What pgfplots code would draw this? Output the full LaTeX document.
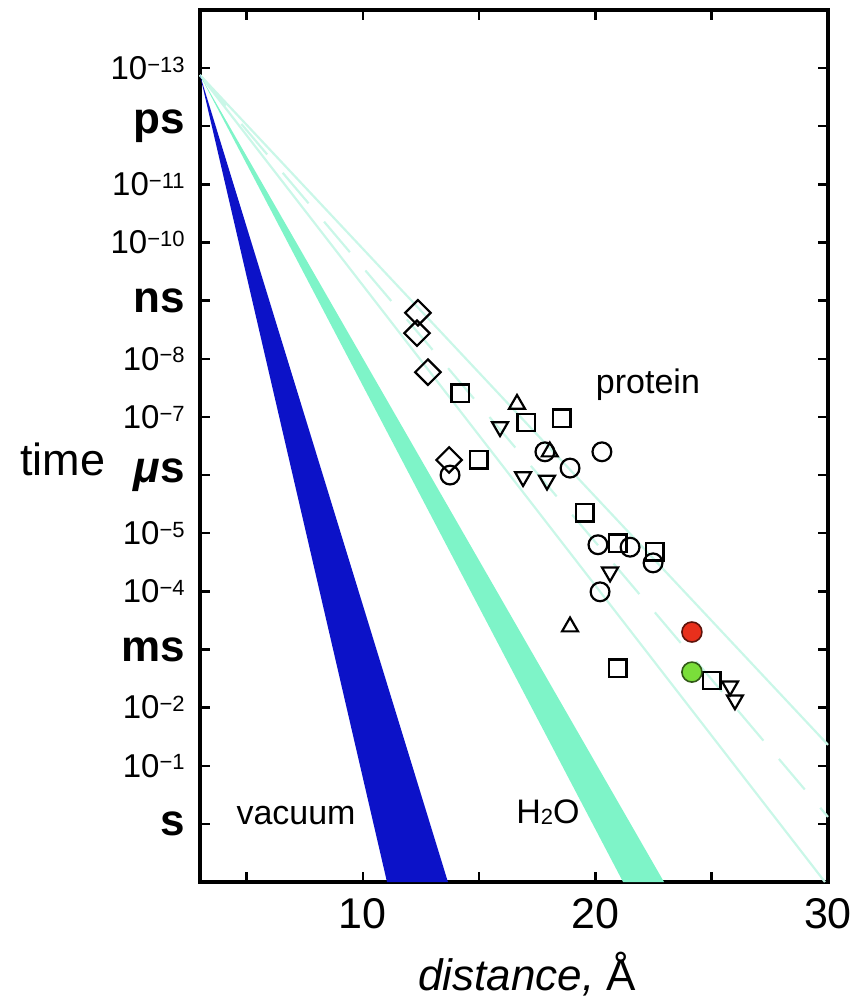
\documentclass[border=0pt]{standalone}
\usepackage{fontspec}
\setmainfont{Liberation Sans}
\usepackage{pgfplots}
\pgfplotsset{compat=1.18}

\definecolor{vac}{RGB}{12,18,200}
\definecolor{wat}{RGB}{126,244,200}
\definecolor{prot}{RGB}{202,247,232}
\definecolor{redm}{RGB}{232,48,28}
\definecolor{grnm}{RGB}{122,222,58}

\newcommand{\tp}[1]{{\fontsize{16.5}{16.5}\selectfont 10\raisebox{3.6pt}{\fontsize{11}{11}\selectfont −#1}}}
\newcommand{\un}[1]{{\fontsize{22}{22}\selectfont\bfseries #1}}

\begin{document}
\begin{tikzpicture}
\begin{axis}[name=ax, scale only axis, width=314pt, height=436pt,
  xmin=3, xmax=30, ymode=log, ymin=1e-14, ymax=10, y dir=reverse,
  clip=false,
  xtick={5,10,15,20,25,30}, xticklabels={,10,,20,,30},
  ytick={1e-13,1e-12,1e-11,1e-10,1e-9,1e-8,1e-7,1e-6,1e-5,1e-4,1e-3,1e-2,1e-1,1},
  yticklabels={\tp{13},\un{ps},\tp{11},\tp{10},\un{ns},\tp{8},\tp{7},\un{\itshape μ\upshape s},\tp{5},\tp{4},\un{ms},\tp{2},\tp{1},\un{s}},
  yminorticks=false, xminorticks=false,
  tick align=inside, major tick length=5pt,
  axis line style={line width=1.8pt},
  every tick/.style={black, line width=1.2pt},
  xticklabel style={font=\fontsize{21.5}{21.5}\selectfont, inner sep=0pt, yshift=-8pt},
  yticklabel style={inner sep=0pt, xshift=-7.5pt},
]
% protein lines
\addplot[prot, line width=1.1pt] coordinates {(3,1.318e-13) (30,4.37e-2)};
\addplot[prot, line width=1.1pt, dash pattern=on 20pt off 12pt] coordinates {(3,1.318e-13) (30,0.759)};
\addplot[prot, line width=1.1pt] coordinates {(3,1.318e-13) (29.87,10)};
% water band
\addplot[fill=wat, draw=none] coordinates {(3,1.318e-13) (21.19,10) (22.95,10)} -- cycle;
% vacuum band
\addplot[fill=vac, draw=none] coordinates {(3,1.318e-13) (11.04,10) (13.66,10)} -- cycle;

% HiPIP (diamonds)
\addplot[only marks, mark=square, mark size=4.5pt, mark options={rotate=45, line width=1.1pt, black}] coordinates {
(12.37,1.62e-9) (12.33,3.63e-9) (12.80,1.70e-8) (13.71,5.50e-7)};
% azurin (circles)
\addplot[only marks, mark=o, mark size=4.7pt, mark options={line width=1.1pt, black}] coordinates {
(13.75,1.0e-6) (17.83,3.98e-7) (18.91,7.59e-7) (20.28,3.98e-7) (20.11,1.58e-5) (21.49,1.74e-5) (22.48,3.24e-5) (20.20,1.02e-4)};
% cyt c (squares)
\addplot[only marks, mark=square, mark size=4.3pt, mark options={line width=1.1pt, black}] coordinates {
(14.18,3.89e-8) (17.02,1.26e-7) (18.56,1.05e-7) (14.99,5.50e-7) (19.55,4.47e-6) (20.97,1.48e-5) (22.56,2.09e-5) (20.97,2.09e-3) (25.01,3.39e-3)};
% myoglobin (triangles)
\addplot[only marks, mark=triangle, mark size=4.6pt, mark options={line width=1.1pt, black}] coordinates {
(16.63,6.03e-8) (18.04,3.98e-7) (18.91,4.07e-4)};
% cyt b562 (inverted triangles)
\addplot[only marks, mark=triangle, mark size=4.6pt, mark options={rotate=180, line width=1.1pt, black}] coordinates {
(15.90,1.48e-7) (16.89,1.07e-6) (17.92,1.23e-6) (20.63,4.68e-5) (25.79,4.27e-3) (26.00,7.41e-3)};
% filled circles
\addplot[only marks, mark=*, mark size=5pt, mark options={fill=redm, draw=black!60!redm, line width=0.8pt}] coordinates {(24.15,5.01e-4)};
\addplot[only marks, mark=*, mark size=5pt, mark options={fill=grnm, draw=black!60!grnm, line width=0.8pt}] coordinates {(24.15,2.45e-3)};

\node[font=\fontsize{17}{17}\selectfont] at (axis cs:7.13,0.71) {vacuum};
\node[font=\fontsize{17}{17}\selectfont] at (axis cs:17.96,0.63) {H\raisebox{-0.05em}{\fontsize{11}{11}\selectfont 2}O};
\node[font=\fontsize{17}{17}\selectfont] at (axis cs:22.26,2.8e-8) {protein};
\end{axis}
\node[anchor=base west, font=\fontsize{22.5}{22.5}\selectfont] at ([xshift=-93.5pt,yshift=203.5pt]ax.south west) {time};
\node[anchor=base, font=\fontsize{22}{22}\selectfont] at ([xshift=163.5pt,yshift=-54pt]ax.south west) {\itshape distance,\upshape{} Å};
\path ([xshift=-100pt,yshift=-61.5pt]ax.south west) coordinate (bl);
\path ([xshift=13.5pt,yshift=5pt]ax.north east) coordinate (tr);
\pgfresetboundingbox
\useasboundingbox (bl) rectangle (tr);
\end{tikzpicture}
\end{document}
